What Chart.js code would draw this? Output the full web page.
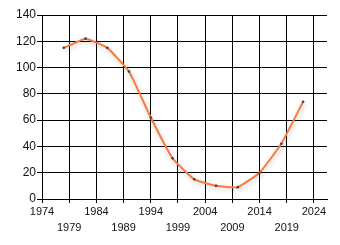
<!DOCTYPE html>
<html>
<head>
<meta charset="utf-8">
<script src="https://cdn.jsdelivr.net/npm/chart.js@4/dist/chart.umd.min.js"></script>
<style>
  html, body { margin: 0; padding: 0; background: #fff; }
  #wrap { width: 340px; height: 245px; }
</style>
</head>
<body>
<div id="wrap"><canvas id="chart"></canvas></div>
<script>
const years = [1978, 1982, 1986, 1990, 1994, 1998, 2002, 2006, 2010, 2014, 2018, 2022];
const values = [115, 122, 115, 97, 62, 31, 15, 10, 9, 20, 42, 74];
const yTicks = [0, 20, 40, 60, 80, 100, 120, 140];
const xTicks = [1974, 1979, 1984, 1989, 1994, 1999, 2004, 2009, 2014, 2019, 2024];

const points = years.map((yr, i) => ({ x: yr, y: values[i] }));

// soft grey halo under the line
const shadow = {
  id: 'shadow',
  beforeDatasetsDraw(chart) {
    const ctx = chart.ctx;
    ctx.save();
    ctx.shadowColor = 'rgba(0,0,0,0.2)';
    ctx.shadowBlur = 5;
    ctx.shadowOffsetX = 1;
    ctx.shadowOffsetY = 2;
  },
  afterDatasetsDraw(chart) {
    chart.ctx.restore();
  }
};

new Chart(document.getElementById('chart'), {
  type: 'line',
  data: {
    datasets: [{
      data: points,
      borderColor: '#fb7a3c',
      borderWidth: 2,
      tension: 0.12,
      pointRadius: 1.3,
      pointBackgroundColor: '#444',
      pointBorderWidth: 0,
      fill: false
    }]
  },
  plugins: [shadow],
  options: {
    responsive: true,
    maintainAspectRatio: false,
    animation: false,
    layout: { padding: { top: 15, right: 13, left: 0, bottom: 0 } },
    plugins: { legend: { display: false }, tooltip: { enabled: false } },
    scales: {
      x: {
        type: 'linear',
        min: 1974,
        max: 2026.4,
        afterBuildTicks: (axis) => { axis.ticks = xTicks.map(v => ({ value: v })); },
        afterFit: (axis) => { axis.height = 46; },
        grid: { color: '#000', lineWidth: 1, tickLength: 4 },
        border: { color: '#000' },
        ticks: {
          color: '#111',
          font: { family: 'Liberation Sans', size: 11, lineHeight: 1.45 },
          padding: 1,
          maxRotation: 0,
          autoSkip: false,
          callback: (v, i) => (i % 2 === 0 ? String(v) : ['', String(v)])
        }
      },
      y: {
        min: 0,
        max: 140,
        afterBuildTicks: (axis) => { axis.ticks = yTicks.map(v => ({ value: v })); },
        afterFit: (axis) => { axis.width = 42; },
        grid: { color: '#000', lineWidth: 1, tickLength: 5 },
        border: { color: '#000' },
        ticks: {
          color: '#111',
          font: { family: 'Liberation Sans', size: 12 },
          padding: 1
        }
      }
    }
  }
});
</script>
</body>
</html>
